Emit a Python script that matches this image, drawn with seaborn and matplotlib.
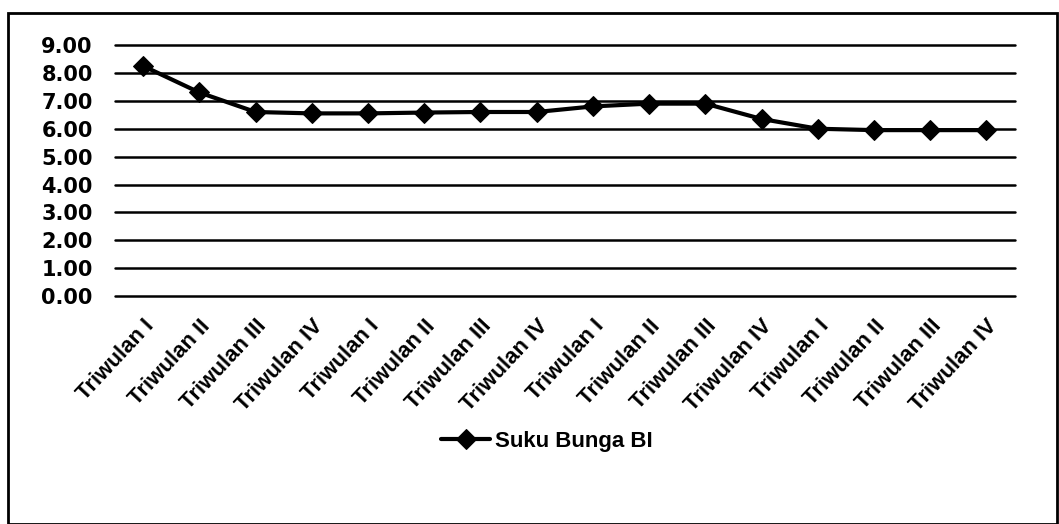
import matplotlib
matplotlib.use("Agg")
import matplotlib.pyplot as plt
from matplotlib.patches import Rectangle
import pandas as pd
import seaborn as sns

# data
quarters = ['Triwulan I', 'Triwulan II', 'Triwulan III', 'Triwulan IV'] * 4
suku_bunga = [8.25, 7.30, 6.60, 6.55, 6.55, 6.58, 6.60, 6.60,
              6.80, 6.90, 6.90, 6.35, 6.00, 5.95, 5.95, 5.95]
y_ticks = [0, 1, 2, 3, 4, 5, 6, 7, 8, 9]

df = pd.DataFrame({'pos': range(len(suku_bunga)), 'rate': suku_bunga})

sns.set_style('white')
plt.rcParams['font.family'] = ['DejaVu Sans']
plt.rcParams['text.color'] = 'black'
plt.rcParams['xtick.color'] = 'black'
plt.rcParams['ytick.color'] = 'black'

fig = plt.figure(figsize=(10.59, 5.24), dpi=100)
ax = fig.add_axes([0.1086, 0.435, 0.8494, 0.479])

sns.lineplot(data=df, x='pos', y='rate', ax=ax, color='black', lw=3,
             marker='D', markersize=10, markeredgecolor='black',
             label='Suku Bunga BI')

ax.set_xlim(-0.5, len(suku_bunga) - 0.5)
ax.set_ylim(0, 9)
ax.set_yticks(y_ticks)
ax.set_yticklabels([f'{v:.2f}' for v in y_ticks], fontsize=15, fontweight='bold')
ax.set_xticks(range(len(quarters)))
ax.set_xticklabels(quarters, rotation=47, ha='right', rotation_mode='anchor',
                   family='Liberation Sans', fontsize=16, fontweight='bold')
ax.tick_params(axis='y', length=0, pad=16)
ax.tick_params(axis='x', length=0, pad=14)
ax.set_xlabel('')
ax.set_ylabel('')
ax.grid(axis='y', color='black', lw=1.8)
for line in ax.get_ygridlines():
    line.set_clip_on(False)
ax.set_axisbelow(True)
for s in ax.spines.values():
    s.set_visible(False)

leg = ax.legend(loc='center', bbox_to_anchor=(0.48, -0.58), frameon=False,
                prop={'family': 'Liberation Sans', 'size': 16, 'weight': 'bold'},
                handlelength=2.2, handletextpad=0.2)

fig.patches.append(Rectangle((0.008, 0.0), 0.99, 0.975, transform=fig.transFigure,
                             fill=False, edgecolor='black', lw=2))

fig.savefig('out.png', dpi=100)
